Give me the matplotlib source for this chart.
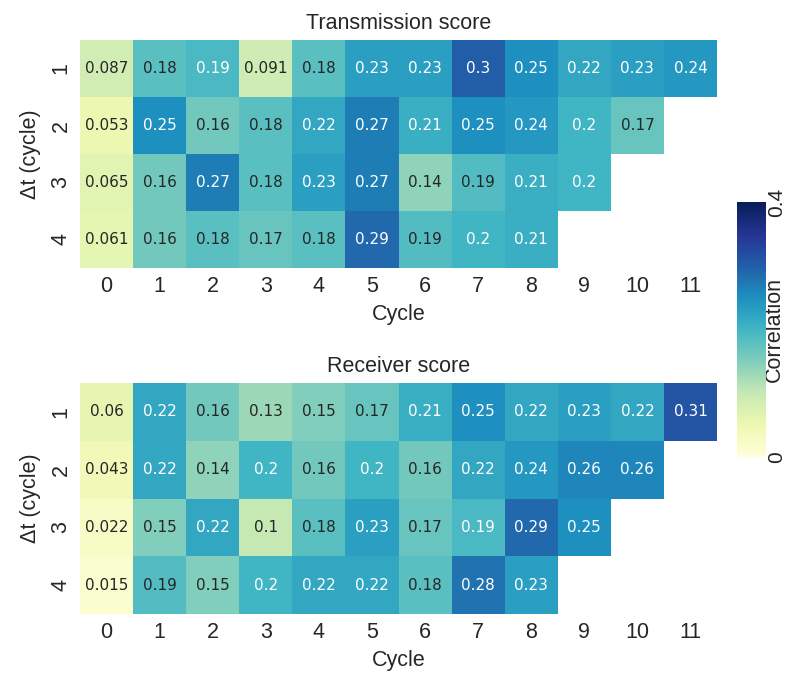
import numpy as np
import matplotlib
matplotlib.use("Agg")
import matplotlib.pyplot as plt
import seaborn as sns

sns.set_style("white")
plt.rcParams['font.family'] = ['Liberation Sans', 'DejaVu Sans']
plt.rcParams['text.color'] = '#262626'
plt.rcParams['axes.labelcolor'] = '#262626'
plt.rcParams['xtick.color'] = '#262626'
plt.rcParams['ytick.color'] = '#262626'

cycles = [str(c) for c in range(12)]
dt_labels = ["1", "2", "3", "4"]
nan = np.nan

transmission_dt1 = [0.087, 0.18, 0.193, 0.091, 0.18, 0.23, 0.23, 0.30, 0.25, 0.22, 0.23, 0.24]
transmission_dt2 = [0.053, 0.25, 0.16, 0.18, 0.22, 0.27, 0.21, 0.25, 0.24, 0.20, 0.17, nan]
transmission_dt3 = [0.065, 0.16, 0.27, 0.18, 0.23, 0.27, 0.14, 0.186, 0.21, 0.20, nan, nan]
transmission_dt4 = [0.061, 0.16, 0.18, 0.17, 0.18, 0.29, 0.186, 0.20, 0.21, nan, nan, nan]

receiver_dt1 = [0.060, 0.22, 0.16, 0.13, 0.15, 0.17, 0.21, 0.25, 0.22, 0.23, 0.22, 0.31]
receiver_dt2 = [0.043, 0.22, 0.14, 0.20, 0.16, 0.20, 0.16, 0.22, 0.24, 0.26, 0.26, nan]
receiver_dt3 = [0.022, 0.15, 0.22, 0.10, 0.18, 0.23, 0.17, 0.193, 0.29, 0.25, nan, nan]
receiver_dt4 = [0.015, 0.186, 0.15, 0.20, 0.22, 0.22, 0.18, 0.28, 0.23, nan, nan, nan]

transmission = np.array([transmission_dt1, transmission_dt2, transmission_dt3, transmission_dt4])
receiver = np.array([receiver_dt1, receiver_dt2, receiver_dt3, receiver_dt4])

W, H = 786, 677
fig = plt.figure(figsize=(W / 100, H / 100), dpi=100)

def fx(px):
    return px / W

def fy(py):
    return 1 - py / H

ax1 = fig.add_axes([fx(80), fy(268), fx(717) - fx(80), fy(40) - fy(268)])
ax2 = fig.add_axes([fx(80), fy(614), fx(717) - fx(80), fy(383) - fy(614)])
cax = fig.add_axes([fx(737), fy(457), fx(766) - fx(737), fy(202) - fy(457)])

for ax, data, title in [(ax1, transmission, "Transmission score"), (ax2, receiver, "Receiver score")]:
    sns.heatmap(data, ax=ax, cmap="YlGnBu", vmin=0, vmax=0.4, annot=True, fmt=".2g",
                annot_kws={"family": "DejaVu Sans", "size": 11}, cbar=ax is ax1, cbar_ax=cax if ax is ax1 else None,
                xticklabels=cycles, yticklabels=dt_labels, mask=np.isnan(data))
    ax.set_title(title, fontsize=15.5, pad=8)
    ax.set_xlabel("Cycle", fontsize=15.5, labelpad=5)
    ax.set_ylabel("Δt (cycle)", fontsize=15.5, labelpad=7)
    ax.tick_params(axis='both', length=0, labelsize=15.5)
    ax.tick_params(axis='x', pad=6)
    ax.tick_params(axis='y', pad=6)
    for lab in ax.get_yticklabels():
        lab.set_rotation(90)
        lab.set_va('center')
    for lab in ax.get_xticklabels():
        lab.set_rotation(0)

cax.set_yticks([0, 0.4])
cax.set_yticklabels(["0", "0.4"], rotation=90, va='center', fontsize=15)
cax.tick_params(length=0, pad=1)
cax.set_ylabel("Correlation", fontsize=15.5, rotation=90, va='center')
cax.yaxis.set_label_coords(1.3, 0.5)
for sp in cax.spines.values():
    sp.set_visible(False)

fig.savefig("out.png", dpi=100)
